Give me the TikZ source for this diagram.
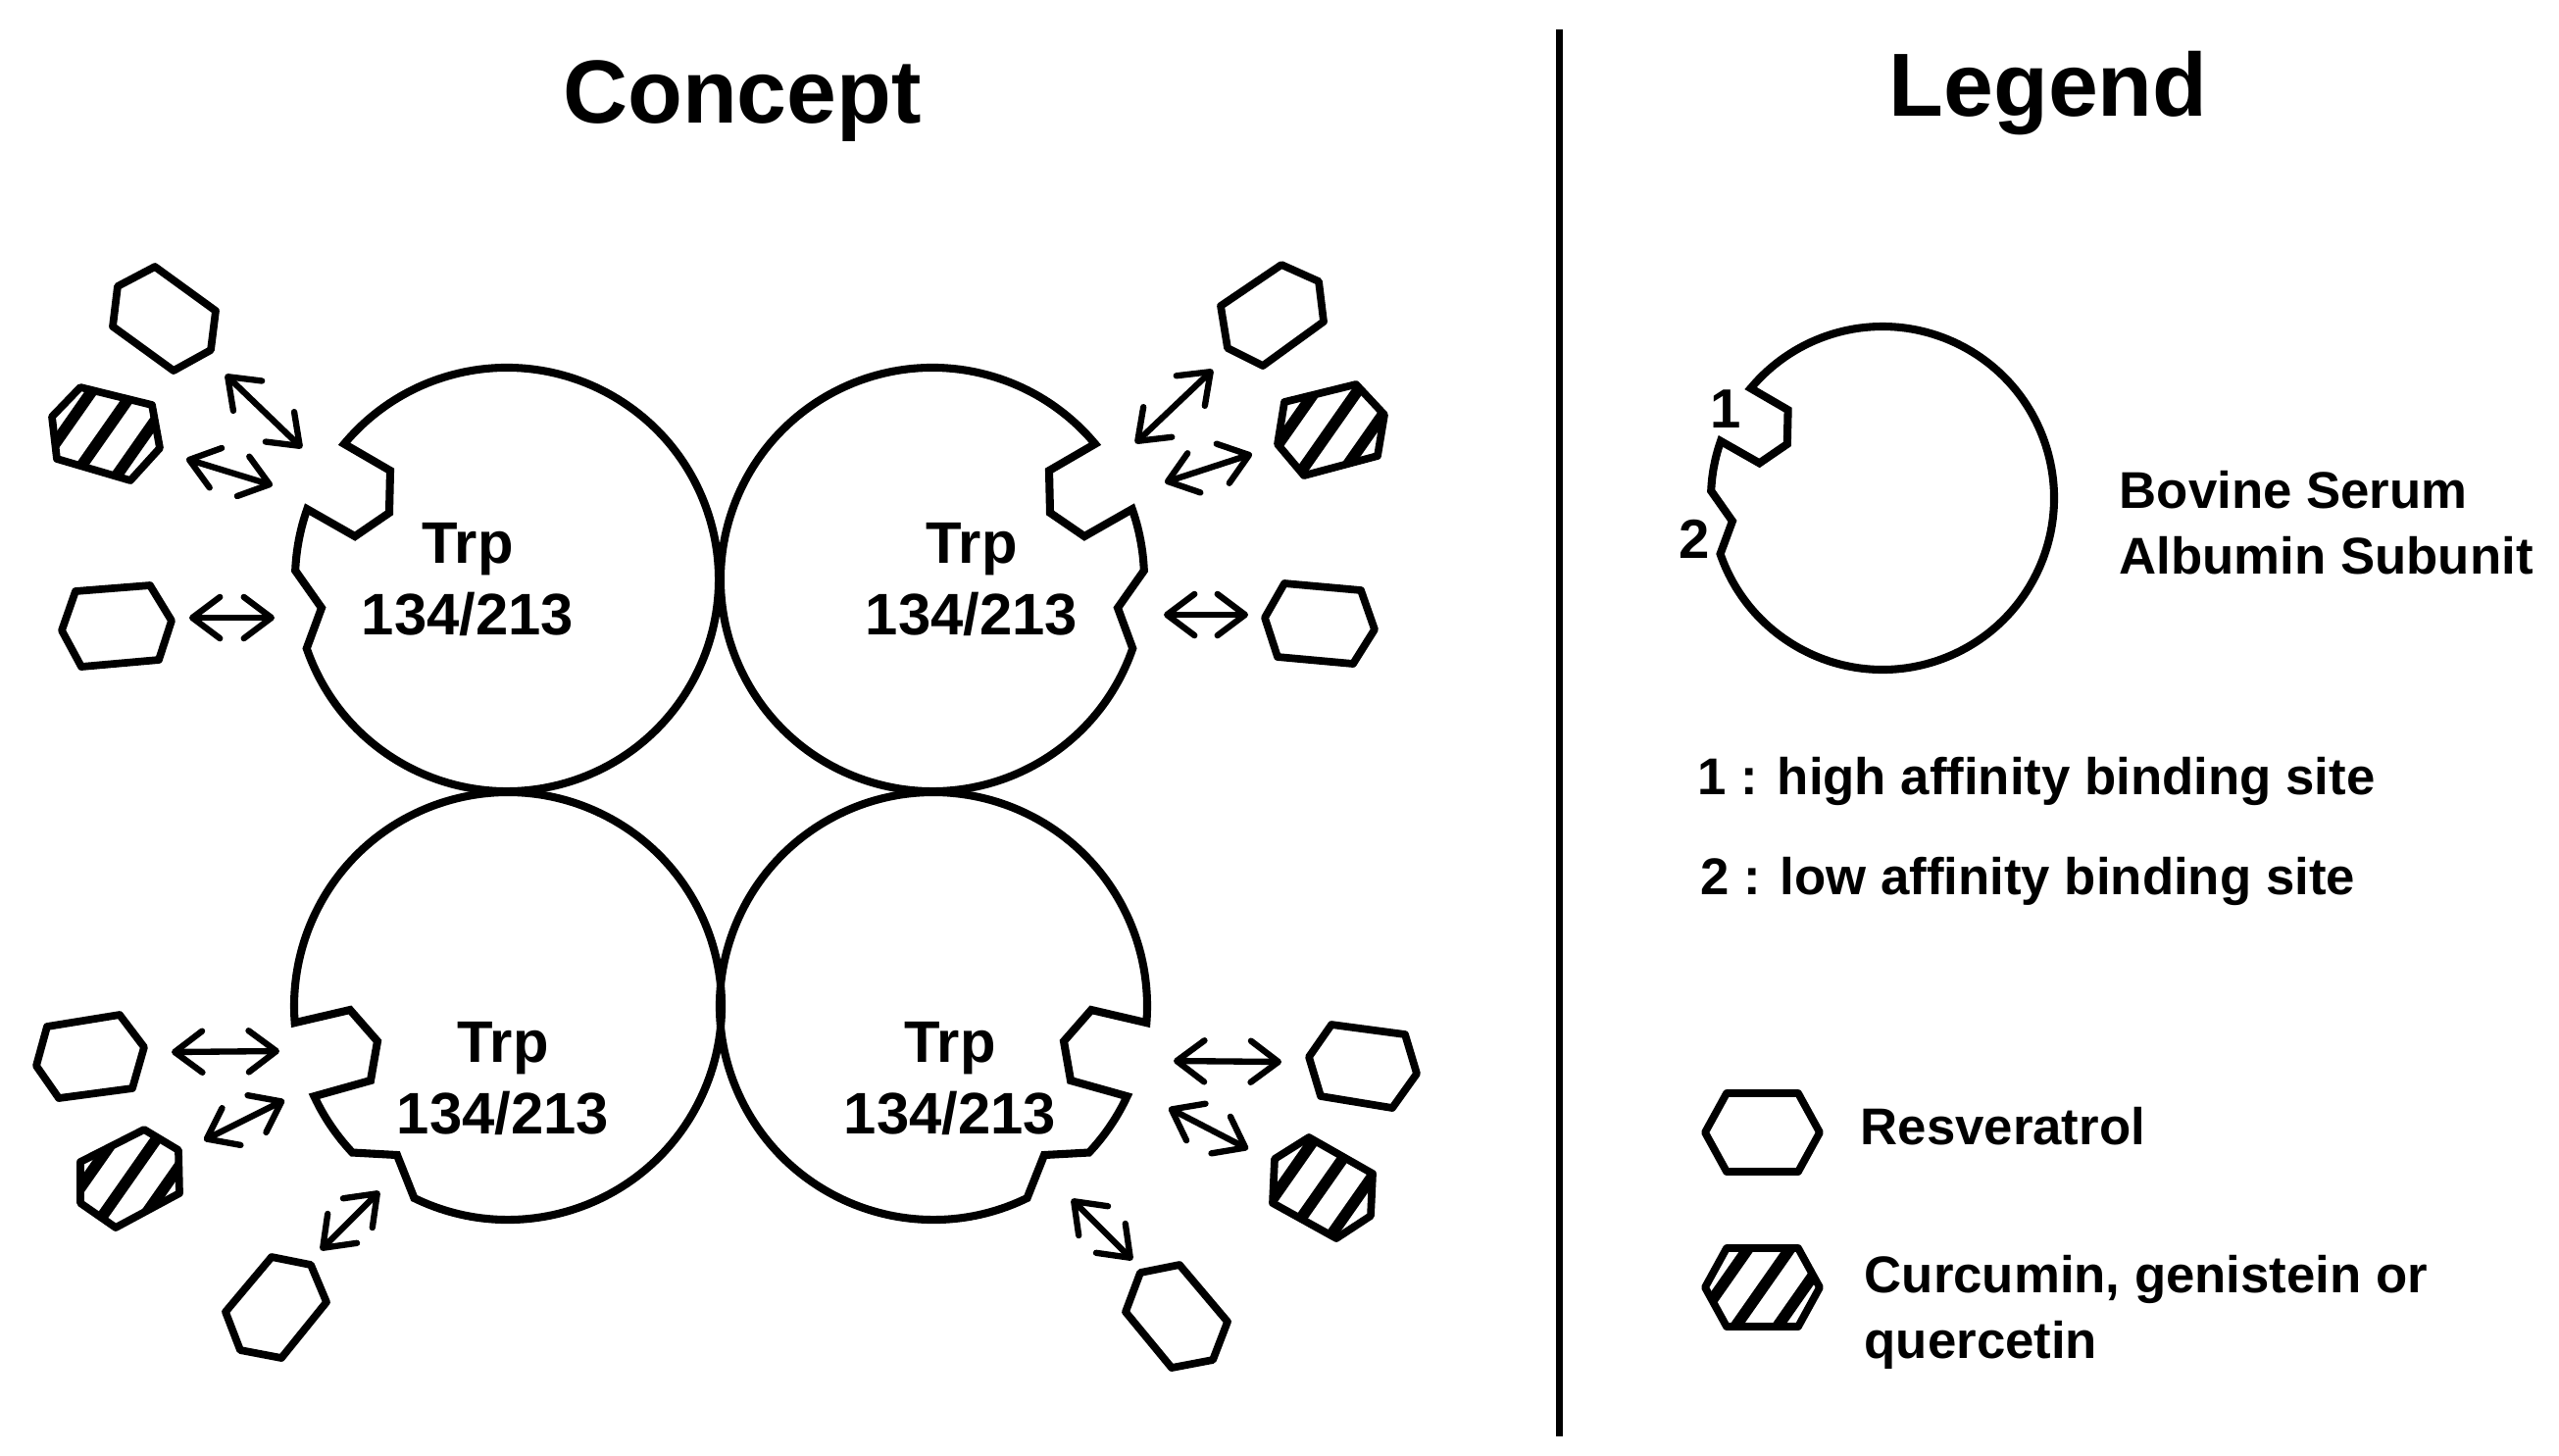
\documentclass[tikz,border=0pt]{standalone}
\usepackage{fontspec}
\setmainfont{Liberation Sans}
\usetikzlibrary{arrows.meta,calc}
\begin{document}
\begin{tikzpicture}[x=0.01cm,y=-0.01cm,
  prot/.style={line width=2.3pt,line join=miter},
  hexl/.style={line width=2.2pt,line join=round},
  dbl/.style={line width=1.8pt,line cap=round,{Straight Barb[length=8pt,width=12pt,round]}-{Straight Barb[length=8pt,width=12pt,round]}},
  trp/.style={font=\fontsize{17}{21}\selectfont\bfseries,align=center},
  leg/.style={font=\fontsize{15}{19}\selectfont\bfseries,align=left,anchor=west,inner sep=0pt},
  title/.style={font=\fontsize{26}{30}\selectfont\bfseries},
  notchTop/.pic={\draw[prot] (-199:216) arc[start angle=-199,end angle=-500.2,radius=216] -- (-119,-111) -- (-120,-68) -- (-155,-44) -- (-160.6:216) arc[start angle=-160.6,end angle=-177.6,radius=216] -- (-189,29) -- cycle;},
  notchBot/.pic={\draw[prot] (-244:218) arc[start angle=-244,end angle=-544.5,radius=218] -- (-161,4) -- (-133,36) -- (-140,76) -- (-205:218) arc[start angle=-205,end angle=-223.3,radius=218] -- (-113,152) -- cycle;}
]
\newcommand\hx[6]{\draw[hexl] #1--#2--#3--#4--#5--#6--cycle;}
\newcommand\hh[7]{%
  \begin{scope}
    \clip #1--#2--#3--#4--#5--#6--cycle;
    \foreach \o in {-1,0,1}{
      \draw[line width=3.3pt] ($(#7)+(\o*28.7,\o*20.1)+(-57.4,81.9)$) -- ++(114.8,-163.8);}
  \end{scope}
  \draw[hexl] #1--#2--#3--#4--#5--#6--cycle;}
\useasboundingbox (0,0) rectangle (2610,1484);
\fill[white] (0,0) rectangle (2610,1484);

% titles and divider
\node[title] (tc) at (757,103) {Concept};
\node[title] (tl) at (2089,95) {Legend};
\coordinate (d1) at (1590,30);
\coordinate (d2) at (1590,1465);
\draw[line width=2pt] (d1) -- (d2);

% proteins
\pic at (517,591) {notchTop};
\pic[xscale=-1] at (951,591) {notchTop};
\pic at (518,1026) {notchBot};
\pic[xscale=-1] at (952,1026) {notchBot};
\node[trp] (t1) at (477,591) {Trp\\134/213};
\node[trp] (t2) at (991,591) {Trp\\134/213};
\node[trp] (t3) at (513,1100) {Trp\\134/213};
\node[trp] (t4) at (969,1100) {Trp\\134/213};

% top-left ligands
\hx{(158,272)}{(220,317)}{(215,357)}{(177,378)}{(115,333)}{(120,292)}
\hh{(82,395)}{(155,413)}{(163,457)}{(133,490)}{(58,468)}{(53,425)}{107,441}
\hx{(77,603)}{(153,597)}{(175,633)}{(162,673)}{(83,680)}{(63,643)}
\draw[dbl] (230,382) -- (308,457);
\draw[dbl] (190,468) -- (278,495);
\draw[dbl] (193,630) -- (280,630);

% top-right ligands
\hx{(1307,270)}{(1345,287)}{(1350,328)}{(1288,373)}{(1252,355)}{(1245,312)}
\hh{(1383,392)}{(1412,423)}{(1405,465)}{(1330,485)}{(1303,453)}{(1310,410)}{1357,438}
\hx{(1310,595)}{(1388,602)}{(1402,642)}{(1380,677)}{(1303,670)}{(1290,630)}
\draw[dbl] (1158,452) -- (1237,377);
\draw[dbl] (1188,492) -- (1277,463);
\draw[dbl] (1187,627) -- (1273,627);

% bottom-left ligands
\hx{(122,1035)}{(147,1068)}{(135,1110)}{(60,1120)}{(37,1087)}{(48,1047)}
\hh{(147,1152)}{(182,1173)}{(183,1217)}{(118,1252)}{(82,1227)}{(82,1185)}{132,1201}
\hx{(277,1282)}{(317,1290)}{(333,1328)}{(287,1385)}{(245,1377)}{(230,1338)}
\draw[dbl] (175,1073) -- (285,1072);
\draw[dbl] (208,1163) -- (290,1122);
\draw[dbl] (327,1275) -- (387,1215);

% bottom-right ligands
\hx{(1358,1045)}{(1433,1055)}{(1445,1095)}{(1420,1130)}{(1347,1118)}{(1335,1078)}
\hh{(1335,1160)}{(1400,1197)}{(1398,1240)}{(1363,1263)}{(1298,1227)}{(1300,1182)}{1349,1211}
\hx{(1203,1290)}{(1252,1348)}{(1237,1387)}{(1195,1395)}{(1148,1338)}{(1163,1298)}
\draw[dbl] (1197,1082) -- (1307,1083);
\draw[dbl] (1192,1130) -- (1273,1172);
\draw[dbl] (1093,1223) -- (1155,1285);

% legend
\pic[scale=0.81] at (1920,508) {notchTop};
\node[font=\fontsize{16}{19}\selectfont\bfseries] (n1) at (1760,417) {1};
\node[font=\fontsize{16}{19}\selectfont\bfseries] (n2) at (1728,550) {2};
\node[leg] (bsa) at (2161,533) {Bovine Serum\\Albumin Subunit};
\node[leg] (l1) at (1731,797) {1 : high affinity binding site};
\node[leg] (l2) at (1734,899) {2 : low affinity binding site};
\hx{(1739,1155)}{(1761,1115)}{(1834,1115)}{(1856,1155)}{(1834,1195)}{(1761,1195)}
\hh{(1739,1313)}{(1761,1273)}{(1834,1273)}{(1856,1313)}{(1834,1353)}{(1761,1353)}{1798,1313}
\node[leg] (lr) at (1897,1149) {Resveratrol};
\node[leg] (lc) at (1901,1338) {Curcumin, genistein or\\quercetin};
\end{tikzpicture}
\end{document}
